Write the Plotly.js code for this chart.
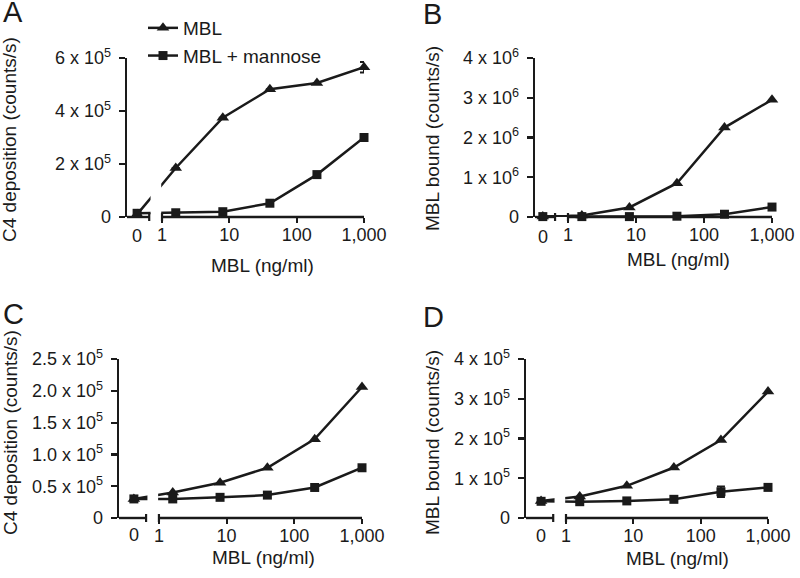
<!DOCTYPE html>
<html>
<head>
<meta charset="utf-8">
<script src="https://cdn.plot.ly/plotly-3.0.1.min.js"></script>
<style>html,body{margin:0;padding:0;background:#fff;}#chart{width:800px;height:578px;}</style>
</head>
<body>
<div id="chart"></div>
<script>
// ---------- data ----------
const conc = [0, 1.6, 8, 40, 200, 1000];           // MBL (ng/ml)
const xTickVals = [1, 10, 100, 1000];
const xTickText = ['1', '10', '100', '1,000'];
const seriesNames = ['MBL', 'MBL + mannose'];

const A_mbl = [1.0e4, 1.85e5, 3.75e5, 4.82e5, 5.06e5, 5.65e5];
const A_mbl_err = [0, 0, 0, 0, 0, 2.0e4];
const A_man = [1.4e4, 1.6e4, 2.0e4, 5.2e4, 1.6e5, 3.0e5];
const A_yticks = [0, 2e5, 4e5, 6e5];
const A_ytext = ['0', '2 x 10<sup>5</sup>', '4 x 10<sup>5</sup>', '6 x 10<sup>5</sup>'];

const B_mbl = [0.01e6, 0.04e6, 0.24e6, 0.85e6, 2.25e6, 2.95e6];
const B_man = [0.01e6, 0.01e6, 0.01e6, 0.02e6, 0.07e6, 0.25e6];
const B_yticks = [0, 1e6, 2e6, 3e6, 4e6];
const B_ytext = ['0', '1 x 10<sup>6</sup>', '2 x 10<sup>6</sup>', '3 x 10<sup>6</sup>', '4 x 10<sup>6</sup>'];

const C_mbl = [0.30e5, 0.40e5, 0.555e5, 0.79e5, 1.24e5, 2.06e5];
const C_man = [0.30e5, 0.30e5, 0.325e5, 0.36e5, 0.48e5, 0.79e5];
const C_yticks = [0, 0.5e5, 1.0e5, 1.5e5, 2.0e5, 2.5e5];
const C_ytext = ['0', '0.5 x 10<sup>5</sup>', '1.0 x 10<sup>5</sup>', '1.5 x 10<sup>5</sup>', '2.0 x 10<sup>5</sup>', '2.5 x 10<sup>5</sup>'];

const D_mbl = [0.43e5, 0.54e5, 0.81e5, 1.27e5, 1.96e5, 3.18e5];
const D_man = [0.42e5, 0.41e5, 0.43e5, 0.47e5, 0.66e5, 0.77e5];
const D_man_err = [0, 0, 0, 0, 0.13e5, 0];
const D_yticks = [0, 1e5, 2e5, 3e5, 4e5];
const D_ytext = ['0', '1 x 10<sup>5</sup>', '2 x 10<sup>5</sup>', '3 x 10<sup>5</sup>', '4 x 10<sup>5</sup>'];

const yTitles = ['C4 deposition (counts/s)', 'MBL bound (counts/s)', 'C4 deposition (counts/s)', 'MBL bound (counts/s)'];
const xTitle = 'MBL (ng/ml)';
const panelLetters = ['A', 'B', 'C', 'D'];

// ---------- layout helpers ----------
const W = 800, H = 578;
const px = x => x / W;
const py = y => 1 - y / H;
const ZERO_LOG = -0.37;              // where "0" sits on the broken log axis
const ZERO = Math.pow(10, ZERO_LOG);
const BREAK_END = -0.19;             // end of the "0" segment (log units)
const FONT = 'Liberation Sans, Arial, sans-serif';
const INK = '#1a1a1a';

const panels = [
  {mbl: A_mbl, mblErr: A_mbl_err, man: A_man, manErr: null, yt: A_yticks, ytx: A_ytext, ymax: 6e5,
   xd: [127, 364], yd: [58, 217], lo: -0.52, zeroLbl: 236, xTitle: [262, 265], yTitle: [10, 140], letter: [1, 12]},
  {mbl: B_mbl, mblErr: null, man: B_man, manErr: null, yt: B_yticks, ytx: B_ytext, ymax: 4e6,
   xd: [535, 772], yd: [58, 217], lo: -0.485, zeroLbl: 237, xTitle: [678, 259], yTitle: [432, 139], letter: [421, 14]},
  {mbl: C_mbl, mblErr: null, man: C_man, manErr: null, yt: C_yticks, ytx: C_ytext, ymax: 2.5e5,
   xd: [119, 362], yd: [359, 518], lo: -0.59, zeroLbl: 535, xTitle: [263, 557], yTitle: [10, 433], letter: [1, 314]},
  {mbl: D_mbl, mblErr: null, man: D_man, manErr: D_man_err, yt: D_yticks, ytx: D_ytext, ymax: 4e5,
   xd: [526, 768], yd: [359, 518], lo: -0.594, zeroLbl: 536, xTitle: [677, 558], yTitle: [432, 443], letter: [421, 317]}
];

const xs = conc.map(c => c === 0 ? ZERO : c);
const traces = [];
const shapes = [];
const annotations = [];
const layout = {
  width: W, height: H,
  margin: {l: 0, r: 0, t: 0, b: 0},
  paper_bgcolor: '#fff', plot_bgcolor: 'rgba(0,0,0,0)',
  font: {family: FONT, size: 18, color: INK},
  showlegend: true,
  legend: {x: px(143), y: py(9), xanchor: 'left', yanchor: 'top',
           font: {family: FONT, size: 19, color: INK}, bgcolor: 'rgba(0,0,0,0)', tracegroupgap: 0, itemwidth: 30},
  shapes: shapes, annotations: annotations
};

panels.forEach((p, i) => {
  const n = i + 1;
  const xa = n === 1 ? 'x' : 'x' + n;
  const ya = n === 1 ? 'y' : 'y' + n;
  const frac = l => (l - p.lo) / (3 - p.lo);

  layout[n === 1 ? 'xaxis' : 'xaxis' + n] = {
    domain: [px(p.xd[0]), px(p.xd[1])], anchor: ya, type: 'log', range: [p.lo, 3],
    showline: false, showgrid: false, zeroline: false,
    tickvals: xTickVals, ticktext: xTickText, ticks: 'outside', ticklen: 5, tickwidth: 2.2, tickcolor: INK,
    ticklabelstandoff: -4,
    tickfont: {family: FONT, size: 18, color: INK}, fixedrange: true
  };
  layout[n === 1 ? 'yaxis' : 'yaxis' + n] = {
    domain: [py(p.yd[1]), py(p.yd[0])], anchor: xa, range: [0, p.ymax],
    showline: true, linewidth: 2.4, linecolor: INK, showgrid: false, zeroline: false,
    tickvals: p.yt, ticktext: p.ytx, ticks: 'outside', ticklen: 6, tickwidth: 2.2, tickcolor: INK,
    ticklabelstandoff: 4,
    tickfont: {family: FONT, size: 18, color: INK}, fixedrange: true
  };

  const mk = (y, err, sym, size, name) => ({
    type: 'scatter', mode: 'lines+markers', x: xs, y: y, xaxis: xa, yaxis: ya,
    name: name, showlegend: i === 0, cliponaxis: false,
    line: {color: INK, width: 2.5},
    marker: {symbol: sym, size: size, color: INK},
    error_y: err ? {type: 'data', array: err, visible: true, color: INK, thickness: 2, width: 4} : {visible: false}
  });
  traces.push(mk(p.mbl, p.mblErr, 'triangle-up', 11, seriesNames[0]));
  traces.push(mk(p.man, p.manErr, 'square', 9, seriesNames[1]));

  const xdRef = xa + ' domain', ydRef = ya + ' domain';
  // gap in the broken axis (hides the connecting line)
  shapes.push({type: 'rect', xref: xdRef, yref: ydRef, x0: frac(-0.17), x1: frac(-0.012), y0: 0.012, y1: 1.02,
               fillcolor: '#fff', line: {width: 0}, layer: 'above'});
  // axis segments
  shapes.push({type: 'line', xref: xdRef, yref: ydRef, x0: 0, x1: frac(BREAK_END), y0: 0, y1: 0,
               line: {color: INK, width: 2.4}, layer: 'above'});
  shapes.push({type: 'line', xref: xdRef, yref: ydRef, x0: frac(0), x1: 1, y0: 0, y1: 0,
               line: {color: INK, width: 2.4}, layer: 'above'});
  // break marks
  [BREAK_END, 0].forEach(l => shapes.push({type: 'line', xref: xdRef, yref: ydRef, ysizemode: 'pixel', yanchor: 0,
               x0: frac(l), x1: frac(l), y0: -4, y1: 4, line: {color: INK, width: 2.2}, layer: 'above'}));

  // "0" label on the broken x axis
  annotations.push({xref: xdRef, yref: 'paper', x: frac(ZERO_LOG), y: py(p.zeroLbl), text: '0', showarrow: false,
                    xanchor: 'center', yanchor: 'middle', font: {family: FONT, size: 18, color: INK}});
  // axis titles
  annotations.push({xref: 'paper', yref: 'paper', x: px(p.xTitle[0]), y: py(p.xTitle[1]), text: xTitle, showarrow: false,
                    xanchor: 'center', yanchor: 'middle', font: {family: FONT, size: 19, color: INK}});
  annotations.push({xref: 'paper', yref: 'paper', x: px(p.yTitle[0]), y: py(p.yTitle[1]), text: yTitles[i], showarrow: false,
                    textangle: -90, xanchor: 'center', yanchor: 'middle', font: {family: FONT, size: 19, color: INK}});
  // panel letter
  annotations.push({xref: 'paper', yref: 'paper', x: px(p.letter[0]), y: py(p.letter[1]), text: panelLetters[i], showarrow: false,
                    xanchor: 'left', yanchor: 'middle', font: {family: FONT, size: 29, color: INK}});
});

Plotly.newPlot('chart', traces, layout, {staticPlot: true, displayModeBar: false});
</script>
</body>
</html>
